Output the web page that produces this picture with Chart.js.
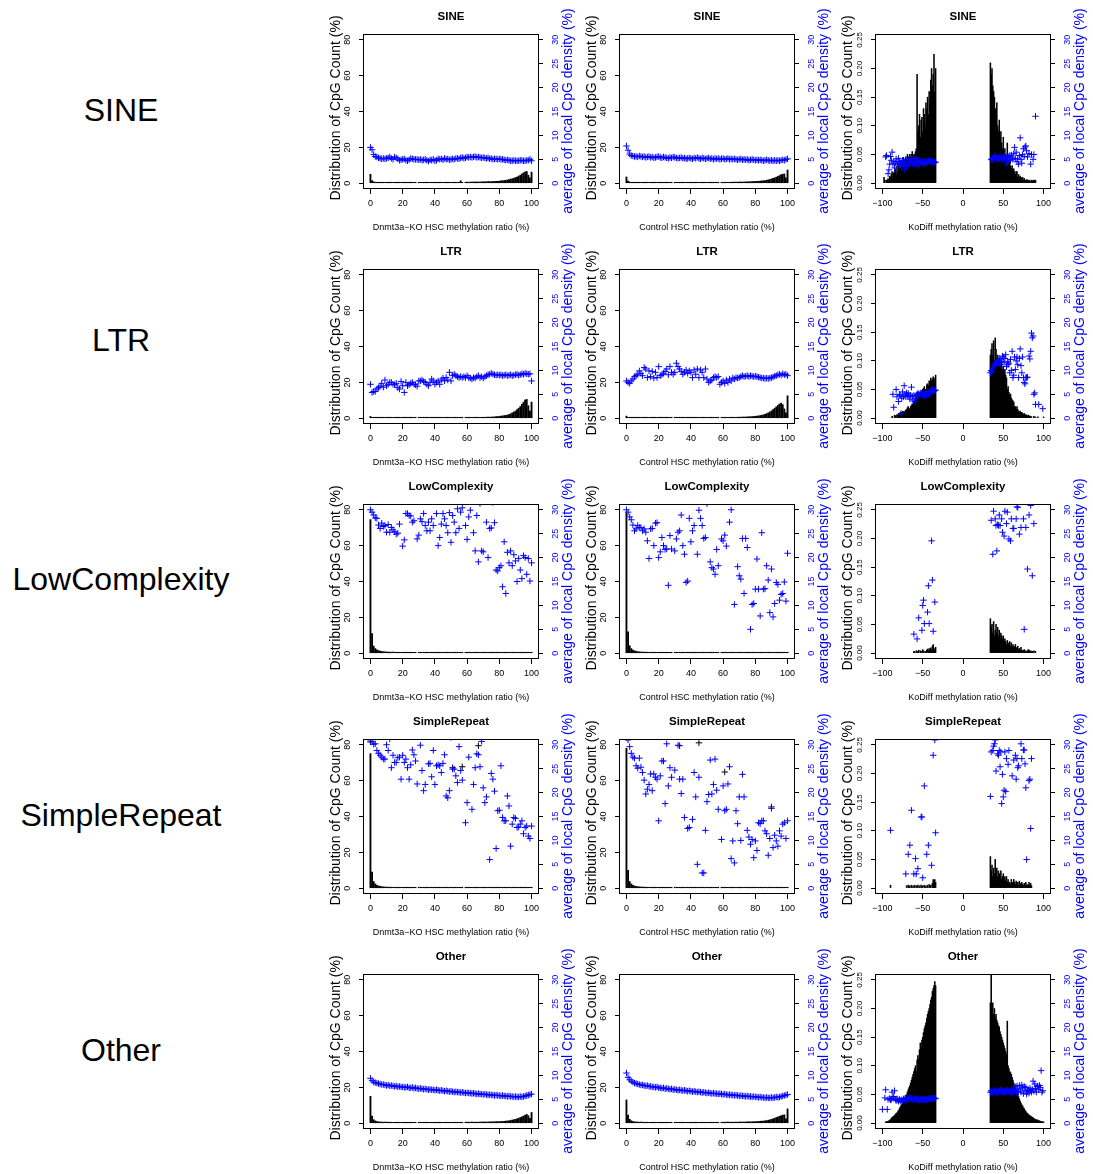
<!DOCTYPE html>
<html>
<head>
<meta charset="utf-8">
<script src="https://cdn.jsdelivr.net/npm/chart.js@4/dist/chart.umd.min.js"></script>
<style>
  body { margin: 0; background: #fff; width: 1093px; height: 1174px; position: relative; overflow: hidden;
         font-family: "Liberation Sans", Arial, Helvetica, sans-serif; }
  .row-label { position: absolute; left: 0; width: 242px; text-align: center; font-size: 32px; line-height: 32px; color: #000; }
  canvas { position: absolute; }
</style>
</head>
<body>
<div class="row-label" style="top:94px">SINE</div>
<div class="row-label" style="top:324px">LTR</div>
<div class="row-label" style="top:563px">LowComplexity</div>
<div class="row-label" style="top:799px">SimpleRepeat</div>
<div class="row-label" style="top:1034px">Other</div>
<script>
// ---- histogram (% of CpGs) per methylation bin, bins 0..100 ----
const sineKoBars = [5.0,1.5,0.8,0.6,0.5,0.4,0.4,0.3,0.3,0.3, 0.3,0.3,0.3,0.3,0.3,0.3,0.3,0.3,0.3,0.3,
  0.3,0.3,0.3,0.3,0.3,0.3,0.3,0.3,0.3,null, 0.3,0.3,0.3,0.3,0.3,0.3,0.3,0.3,0.3,0.3,
  0.3,0.4,0.4,0.4,0.4,0.4,0.4,0.4,0.4,0.4, 0.4,0.4,0.4,0.5,0.5,0.5,1.4,0.5,null,0.6,
  0.6,0.6,0.6,0.6,0.7,0.7,0.7,0.7,0.7,0.8, 0.8,0.8,0.8,0.9,0.9,0.9,1.0,1.0,1.1,1.1,
  1.2,1.3,1.4,1.5,1.7,1.8,2.0,2.3,2.5,2.8, 3.2,3.5,4.0,4.5,5.2,5.8,6.3,6.6,4.5,3.0, 6.2];
const sineCtlBars = [3.5,1.2,0.7,0.5,0.4,0.4,0.3,0.3,0.3,0.3, 0.3,0.3,0.3,0.3,0.3,0.3,0.3,0.3,0.3,0.3,
  0.3,0.3,0.3,0.3,0.3,0.3,0.3,0.3,0.3,null, 0.3,0.3,0.3,0.3,0.3,0.3,0.3,0.3,0.3,0.3,
  0.3,0.3,0.3,0.3,0.3,0.3,0.3,0.4,0.4,0.4, 0.4,0.4,0.4,0.4,0.4,0.4,0.4,0.4,null,0.5,
  0.5,0.5,0.5,0.5,0.5,0.6,0.6,0.6,0.6,0.6, 0.7,0.7,0.7,0.7,0.8,0.8,0.8,0.9,0.9,1.0,
  1.0,1.1,1.1,1.2,1.3,1.4,1.5,1.7,1.9,2.1, 2.4,2.7,3.0,3.4,3.8,4.3,4.8,5.0,5.2,3.0, 7.4];
const ltrKoBars = [1.0,0.5,0.4,0.3,0.3,0.3,0.3,0.3,0.3,0.3, 0.3,0.3,0.3,0.3,0.3,0.3,0.3,0.3,0.3,0.3,
  0.3,0.3,0.3,0.3,0.3,0.3,0.3,0.3,0.3,null, 0.3,0.3,0.3,0.3,0.3,0.3,0.3,0.3,0.3,0.3,
  0.3,0.3,0.3,0.3,0.3,0.3,0.3,0.3,0.3,0.3, 0.3,0.3,0.3,0.3,0.3,0.3,0.3,0.3,null,0.4,
  0.4,0.4,0.4,0.4,0.4,0.4,0.5,0.5,0.5,0.5, 0.5,0.5,0.6,0.6,0.6,0.7,0.7,0.8,0.9,1.0,
  1.0,1.2,1.3,1.5,1.6,1.8,2.1,2.5,3.0,3.5, 4.0,4.8,5.6,6.5,7.8,9.0,10.2,10.5,7.0,4.0, 9.0];
const ltrCtlBars = [1.2,0.5,0.4,0.3,0.3,0.3,0.3,0.3,0.3,0.3, 0.3,0.3,0.3,0.3,0.3,0.3,0.3,0.3,0.3,0.3,
  0.3,0.3,0.3,0.3,0.3,0.3,0.3,0.3,0.3,null, 0.3,0.3,0.3,0.3,0.3,0.3,0.3,0.3,0.3,0.3,
  0.3,0.3,0.3,0.3,0.3,0.3,0.3,0.3,0.3,0.3, 0.3,0.3,0.3,0.3,0.3,0.3,0.3,0.3,null,0.4,
  0.4,0.4,0.4,0.4,0.4,0.5,0.5,0.5,0.5,0.6, 0.6,0.6,0.7,0.7,0.7,0.8,0.8,0.9,0.9,1.0,
  1.1,1.2,1.3,1.5,1.7,1.9,2.2,2.6,3.0,3.5, 4.1,4.8,5.6,6.4,7.2,8.0,8.4,7.6,5.2,3.0, 12.5];
const lowKoBars = [74.5,11.0,4.0,2.6,1.9,1.5,1.2,1.0,0.9,0.8, 0.7,0.7,0.6,0.6,0.6,0.5,0.5,0.5,0.5,0.5,
  0.4,0.4,0.4,0.4,0.4,0.4,0.4,0.4,0.4,null, 0.3,0.3,0.3,0.3,0.3,0.3,0.3,0.3,0.3,0.3,
  0.3,0.3,0.3,0.3,0.3,0.3,0.3,0.3,0.3,0.3, 0.3,0.3,0.3,0.3,0.3,0.3,0.3,0.3,null,0.3,
  0.3,0.3,0.3,0.3,0.3,0.3,0.3,0.3,0.3,0.3, 0.3,0.3,0.3,0.3,0.3,0.3,0.3,0.3,0.3,0.3,
  0.3,0.3,0.3,0.3,0.3,0.3,0.3,0.3,0.3,0.3, 0.3,0.3,0.3,0.3,0.3,0.3,0.3,0.3,0.3,0.3, 0.3];
const lowCtlBars = [78.0,12.0,4.2,2.6,1.8,1.4,1.1,0.9,0.8,0.7, 0.7,0.6,0.6,0.6,0.5,0.5,0.5,0.5,0.4,0.4,
  0.4,0.4,0.4,0.4,0.4,0.4,0.4,0.4,0.4,null, 0.3,0.3,0.3,0.3,0.3,0.3,0.3,0.3,0.3,0.3,
  0.3,0.3,0.3,0.3,0.3,0.3,0.3,0.3,0.3,0.3, 0.3,0.3,0.3,0.3,0.3,0.3,0.3,0.3,null,0.3,
  0.3,0.3,0.3,0.3,0.3,0.3,0.3,0.3,0.3,0.3, 0.3,0.3,0.3,0.3,0.3,0.3,0.3,0.3,0.3,0.3,
  0.3,0.3,0.3,0.3,0.3,0.3,0.3,0.3,0.3,0.3, 0.3,0.3,0.3,0.3,0.3,0.3,0.3,0.3,0.3,0.3, 0.3];
const repKoBars = [75.0,9.0,3.8,2.4,1.7,1.3,1.1,0.9,0.8,0.7, 0.7,0.6,0.6,0.6,0.5,0.5,0.5,0.5,0.5,0.4,
  0.4,0.4,0.4,0.4,0.4,0.4,0.4,0.4,0.4,null, 0.3,0.3,0.3,0.3,0.3,0.3,0.3,0.3,0.3,0.3,
  0.3,0.3,0.3,0.3,0.3,0.3,0.3,0.3,0.3,0.3, 0.3,0.3,0.3,0.3,0.3,0.3,0.3,0.3,null,0.3,
  0.3,0.3,0.3,0.3,0.3,0.3,0.3,0.3,0.3,0.3, 0.3,0.3,0.3,0.3,0.3,0.3,0.3,0.3,0.3,0.3,
  0.3,0.3,0.3,0.3,0.3,0.3,0.3,0.3,0.3,0.3, 0.3,0.3,0.3,0.3,0.3,0.3,0.3,0.3,0.3,0.3, 0.3];
const repCtlBars = [78.0,10.0,3.8,2.4,1.7,1.3,1.0,0.9,0.8,0.7, 0.7,0.6,0.6,0.5,0.5,0.5,0.5,0.5,0.4,0.4,
  0.4,0.4,0.4,0.4,0.4,0.4,0.4,0.4,0.4,null, 0.3,0.3,0.3,0.3,0.3,0.3,0.3,0.3,0.3,0.3,
  0.3,0.3,0.3,0.3,0.3,0.3,0.3,0.3,0.3,0.3, 0.3,0.3,0.3,0.3,0.3,0.3,0.3,0.3,null,0.3,
  0.3,0.3,0.3,0.3,0.3,0.3,0.3,0.3,0.3,0.3, 0.3,0.3,0.3,0.3,0.3,0.3,0.3,0.3,0.3,0.3,
  0.3,0.3,0.3,0.3,0.3,0.3,0.3,0.3,0.3,0.3, 0.3,0.3,0.3,0.3,0.3,0.3,0.3,0.3,0.3,0.3, 0.3];
const otherKoBars = [15.0,4.0,2.0,1.3,1.0,0.8,0.7,0.7,0.6,0.6, 0.6,0.6,0.6,0.5,0.5,0.5,0.5,0.5,0.5,0.5,
  0.5,0.5,0.5,0.5,0.5,0.5,0.5,0.5,0.5,null, 0.5,0.5,0.5,0.5,0.5,0.5,0.5,0.5,0.5,0.5,
  0.5,0.5,0.5,0.5,0.5,0.5,0.5,0.5,0.5,0.5, 0.5,0.5,0.5,0.5,0.5,0.5,0.5,0.5,null,0.6,
  0.6,0.6,0.6,0.6,0.6,0.6,0.6,0.6,0.7,0.7, 0.7,0.7,0.7,0.7,0.8,0.8,0.8,0.8,0.9,0.9,
  0.9,0.9,1.0,1.1,1.2,1.3,1.4,1.6,1.8,2.0, 2.2,2.5,2.8,3.2,3.6,4.0,4.5,5.0,4.2,2.8, 6.0];
const otherCtlBars = [13.0,4.5,2.2,1.4,1.0,0.8,0.7,0.7,0.6,0.6, 0.6,0.5,0.5,0.5,0.5,0.5,0.5,0.5,0.5,0.5,
  0.5,0.5,0.5,0.5,0.5,0.5,0.5,0.5,0.5,null, 0.5,0.5,0.5,0.5,0.5,0.5,0.5,0.5,0.5,0.5,
  0.5,0.5,0.5,0.5,0.5,0.5,0.5,0.5,0.5,0.5, 0.5,0.5,0.5,0.5,0.5,0.5,0.5,0.5,null,0.5,
  0.5,0.6,0.6,0.6,0.6,0.6,0.6,0.6,0.6,0.6, 0.7,0.7,0.7,0.7,0.7,0.8,0.8,0.8,0.8,0.9,
  0.9,1.0,1.0,1.1,1.2,1.2,1.4,1.5,1.7,1.9, 2.2,2.5,2.8,3.2,3.5,3.9,4.2,4.5,4.7,2.5, 8.0];

// ---- average local CpG density (%) per bin, bins 0..100 ----
const sineKoDens = [7.5,7.0,6.0,5.6,5.5,5.3,5.2,5.1,5.2,5.1, 5.2,5.3,5.5,5.2,5.0,5.5,5.3,5.1,4.8,4.9,
  5.0,5.1,4.8,4.7,4.9,5.2,5.1,5.0,5.0,5.0, 4.9,5.0,4.8,4.9,5.0,4.8,4.6,4.9,4.8,5.0,
  4.7,4.8,5.1,5.0,5.1,4.9,5.2,5.0,5.1,4.9, 5.0,5.1,5.0,5.2,5.2,5.1,5.3,5.4,5.2,5.3,
  5.5,5.4,5.5,5.4,5.5,5.6,5.4,5.5,5.4,5.3, 5.4,5.3,5.2,5.3,5.1,5.2,5.0,5.1,5.1,5.0,
  5.1,5.0,5.0,4.9,4.8,4.9,4.8,4.7,4.7,4.8, 4.7,4.7,4.7,4.8,4.8,4.7,4.7,4.8,4.8,5.0, 4.7];
const sineCtlDens = [7.8,6.9,6.1,5.8,5.7,5.6,5.6,5.5,5.7,5.6, 5.5,5.6,5.4,5.5,5.6,5.4,5.5,5.3,5.4,5.5,
  5.6,5.4,5.3,5.5,5.4,5.3,5.2,5.4,5.3,5.5, 5.4,5.3,5.2,5.3,5.4,5.2,5.3,5.1,5.2,5.3,
  5.2,5.1,5.3,5.2,5.4,5.2,5.1,5.3,5.2,5.1, 5.2,5.3,5.1,5.2,5.0,5.2,5.1,5.2,5.0,5.1,
  5.2,5.0,5.1,5.2,5.0,5.1,5.0,5.1,5.0,4.9, 5.0,5.1,4.9,5.0,4.9,5.0,4.8,4.9,5.0,4.9,
  4.8,4.9,4.8,4.9,4.8,4.7,4.8,4.9,4.8,4.7, 4.8,4.7,4.8,4.7,4.8,4.7,4.8,4.9,4.8,5.0, 5.1];
const ltrKoDens = [7.1,5.4,5.6,5.6,6.1,6.4,6.7,7.3,6.5,8.0, 6.8,7.1,7.5,7.5,7.1,7.0,7.3,6.4,6.1,7.7,
  6.8,5.4,7.5,6.8,7.0,7.3,7.5,7.1,7.0,6.7, 7.8,7.8,8.0,7.7,7.5,7.1,6.8,7.5,8.2,7.8,
  7.1,7.5,7.8,7.1,8.0,8.4,7.8,8.5,8.0,9.6, 7.8,8.9,9.2,8.9,8.7,8.5,8.7,8.5,8.7,8.5,
  8.9,8.5,8.4,8.2,8.5,8.4,8.7,8.9,8.5,8.7, 8.4,8.7,8.9,9.1,9.2,9.4,9.2,9.1,9.0,9.1,
  9.0,9.1,8.9,9.0,9.1,8.9,9.0,9.1,8.9,9.0, 9.1,9.2,9.0,9.1,9.3,9.2,9.4,9.3,9.2,9.3, 7.8];
const ltrCtlDens = [7.8,7.5,7.3,7.8,8.2,8.7,8.9,9.2,9.9,9.4, 8.9,10.6,10.3,8.5,9.9,8.7,9.8,8.4,9.6,8.5,
  10.8,8.9,9.1,9.4,9.8,10.3,9.1,10.8,9.6,9.2, 9.6,11.5,10.8,10.3,9.8,9.2,9.6,10.1,9.4,9.9,
  9.6,8.5,10.1,9.2,10.3,8.5,10.1,9.6,8.5,10.3, 8.2,7.5,7.8,8.0,8.5,8.7,8.5,8.7,7.1,7.5,
  7.8,7.3,8.0,7.5,8.2,7.8,8.4,8.2,8.5,8.4, 8.5,8.7,8.9,8.7,8.8,8.9,8.7,8.9,8.8,8.7,
  8.8,8.7,8.6,8.5,8.4,8.4,8.3,8.4,8.3,8.4, 8.5,8.6,8.8,8.9,9.1,9.2,9.0,9.3,9.1,9.2, 8.9];
const lowKoDens = [30.0,29.5,28.9,28.3,28.2,26.8,26.1,27.2,26.5,26.7, 25.3,26.9,25.3,26.3,25.8,25.4,24.9,25.1,27.0,null,
  22.4,23.7,29.2,29.2,28.8,28.7,27.4,27.7,null,23.9, 24.7,28.1,27.5,29.2,26.7,25.6,27.4,25.6,28.1,26.7,
  null,29.2,22.5,24.2,27.0,29.2,28.1,26.7,25.2,29.4, 23.2,28.8,27.4,25.2,30.2,26.1,29.5,30.4,null,26.7,
  23.8,28.5,29.9,null,25.2,21.4,28.8,19.1,31.3,21.4, 21.2,null,27.4,20.0,26.1,26.2,31.5,27.3,17.4,17.2,
  17.9,18.3,13.9,23.3,12.5,21.1,18.9,21.4,18.3,20.6, 19.3,15.0,19.8,17.4,15.6,20.4,20.0,16.5,19.8,15.1, 18.9];
const lowCtlDens = [30.0,29.5,28.5,27.9,26.8,25.6,26.0,26.7,26.3,26.3, 25.6,26.0,25.3,23.5,19.8,26.0,26.1,22.5,27.2,27.3,
  20.0,21.2,24.2,22.5,21.7,21.8,14.2,24.6,21.8,null, 21.4,23.9,25.3,25.6,28.9,22.5,20.7,14.8,15.1,28.2,
  23.3,25.6,26.7,null,20.7,29.9,28.2,26.7,24.0,24.2, 31.3,null,19.1,17.9,17.6,16.5,21.7,18.3,null,23.9,
  23.5,24.7,22.4,null,27.4,30.0,null,10.2,null,18.1, 16.2,15.5,24.0,12.5,24.0,22.1,null,5.0,10.2,10.4,
  13.4,19.7,13.4,7.8,25.2,13.4,13.5,18.3,15.3,8.5, 17.6,7.6,10.4,14.8,14.4,11.1,12.3,12.5,14.9,10.9, 20.9];
const repKoDens = [31.0,30.6,30.1,30.2,28.8,28.2,27.8,27.4,27.0,27.0, 30.0,28.8,31.2,25.2,27.8,26.3,26.3,27.3,27.4,22.8,
  27.8,26.3,27.0,25.2,22.8,25.8,28.9,27.9,26.6,21.8, null,29.9,24.6,20.4,21.7,null,26.0,26.1,23.3,28.8,
  21.7,25.6,25.8,25.6,24.2,26.1,27.9,19.3,18.9,20.4, 31.5,24.9,24.9,23.5,22.1,29.6,24.6,22.6,null,13.7,
  17.9,27.4,null,16.5,21.7,25.2,28.1,27.9,25.4,30.7, 21.0,17.9,19.1,null,6.0,24.0,22.8,20.3,8.3,16.2,
  16.3,25.6,14.8,14.1,14.1,19.3,17.2,8.8,13.4,14.8, 14.6,12.7,12.8,13.4,14.1,11.4,12.7,13.0,10.9,10.4, 13.0];
const repCtlDens = [31.5,31.0,29.6,28.2,27.4,27.2,25.6,25.1,27.2,25.3, 24.2,22.6,19.7,20.7,21.7,23.9,20.4,23.9,23.2,22.8,
  14.1,23.5,26.6,26.6,17.7,30.2,21.4,25.2,23.2,null, 24.7,null,29.9,22.8,19.8,22.8,14.8,null,12.5,12.7,
  null,14.4,24.2,19.1,5.0,23.2,null,3.2,3.2,12.1, 18.1,19.6,26.8,19.7,21.7,27.0,20.5,16.5,null,10.2,
  21.4,16.2,16.5,21.8,25.4,6.2,9.9,5.3,16.2,13.5, 19.1,10.0,23.8,19.1,null,12.1,10.7,9.2,10.2,6.4,
  9.9,7.9,13.7,13.5,14.1,14.1,12.0,11.4,6.9,10.4, 16.7,8.5,11.1,9.9,8.8,12.0,10.9,13.4,13.7,10.4, 14.1];
const otherKoDens = [9.4,8.9,8.6,8.5,8.4,8.3,8.2,8.1,8.1,8.0, 7.9,8.0,7.8,7.9,7.8,7.7,7.8,7.6,7.7,7.6,
  7.6,7.5,7.5,7.6,7.4,7.4,7.5,7.3,7.4,7.3, 7.2,7.3,7.2,7.1,7.2,7.1,7.0,7.1,7.0,7.0,
  6.9,7.0,6.9,6.8,6.9,6.8,6.7,6.8,6.7,6.6, 6.7,6.6,6.5,6.6,6.5,6.5,6.4,6.5,6.4,6.3,
  6.4,6.3,6.3,6.2,6.3,6.2,6.1,6.2,6.1,6.1, 6.0,6.1,6.0,5.9,6.0,5.9,5.9,5.8,5.9,5.8,
  5.8,5.7,5.8,5.7,5.7,5.6,5.7,5.6,5.6,5.5, 5.6,5.5,5.5,5.6,5.5,5.6,5.7,5.8,5.9,6.0, 6.1];
const otherCtlDens = [10.5,9.6,9.1,8.8,8.6,8.4,8.3,8.2,8.1,8.0, 8.0,7.9,7.8,7.9,7.7,7.7,7.6,7.6,7.5,7.6,
  7.4,7.4,7.3,7.4,7.2,7.3,7.2,7.1,7.2,7.0, 7.1,7.0,6.9,7.0,6.9,6.8,6.9,6.8,6.7,6.8,
  6.7,6.6,6.7,6.6,6.5,6.6,6.5,6.4,6.5,6.4, 6.3,6.4,6.3,6.2,6.3,6.2,6.2,6.1,6.2,6.1,
  6.0,6.1,6.0,5.9,6.0,5.9,5.9,5.8,5.9,5.8, 5.7,5.8,5.7,5.7,5.6,5.7,5.6,5.6,5.5,5.6,
  5.5,5.5,5.4,5.5,5.4,5.4,5.3,5.4,5.3,5.3, 5.4,5.3,5.4,5.5,5.4,5.5,5.6,5.7,5.8,5.9, 6.0];

// second series (black crosses) in the SimpleRepeat panels
const repKoBlackX = [0, 51, 57, 67];
const repKoBlackY = [30.6, 25.2, 25.4, 29.8];
const repCtlBlackX = [33, 45, 61, 90];
const repCtlBlackY = [29.8, 30.4, 24.3, 17.0];

// ---- KoDiff panels: negative side bins -100..-34, positive side bins 34..100 ----
const sineDiffBarsNeg = [null,null,0.01,0.005,null,0.005,0.005,0.008,0.005,0.012,
  0.01,0.015,0.02,0.012,0.018,0.02,0.025,0.015,0.03,0.02, 0.035,0.025,0.03,0.04,0.03,0.035,0.045,0.03,0.04,0.045,
  0.04,0.05,0.045,0.04,0.05,0.045,0.05,0.055,0.05,0.045, 0.05,0.055,0.06,0.19,0.09,0.1,0.12,0.08,0.11,0.115,
  0.09,0.13,0.12,0.1,0.14,0.13,0.15,0.12,0.16,0.14, 0.18,0.2,0.17,0.19,0.225,0.16,0.2];
const sineDiffBarsPos = [0.21,0.19,0.2,0.17,0.16,0.15,0.13,0.12,0.14,0.1, 0.09,0.11,0.08,0.09,0.07,0.06,0.08,0.05,0.06,0.05,
  0.04,0.07,0.04,0.035,0.04,0.03,0.025,0.03,0.02,0.025, 0.02,0.015,0.02,0.02,0.01,0.015,0.01,0.012,0.01,0.008,
  0.01,0.005,0.008,0.005,0.004,0.006,0.005,0.004,0.005,0.004, 0.003,0.005,0.004,0.004,0.005,0.004,0.005,null,null,null,
  null,null,null,null,null,null,null];
const sineDiffDensNeg = [null,null,null,null,5.5,5.8,null,2.0,2.8,4.0, 5.6,4.8,6.5,4.0,4.5,3.2,4.2,5.1,4.5,4.0,
  5.2,4.5,3.8,4.2,3.5,4.8,4.0,2.8,4.5,5.0, 3.6,4.2,5.0,4.4,3.8,4.6,5.2,4.0,4.5,5.1,
  4.3,5.4,4.6,3.6,4.2,4.8,4.0,4.5,4.3,4.1, 4.6,4.2,4.4,4.0,4.7,4.5,4.3,4.6,4.8,4.5, 4.7,4.5,4.6,4.4,4.5,4.3,4.4];
const sineDiffDensPos = [null,5.0,4.9,5.2,5.0,5.4,5.8,5.3,5.0,5.5, 5.2,5.4,5.1,5.6,5.3,5.0,5.5,5.7,5.2,5.5,
  4.2,5.4,5.6,5.0,5.8,4.7,5.9,5.3,5.0,6.2, 7.5,5.2,6.5,4.5,5.1,4.0,5.8,9.5,5.0,4.2,
  6.0,7.2,5.6,7.6,7.8,6.8,5.5,null,6.2,null, 4.0,6.0,null,5.0,6.0,null,14.0,null,null,null, null,null,null,null,null,null,null];

const ltrDiffBarsNeg = [null,null,null,null,null,null,null,null,null,null,
  null,null,0.003,null,null,0.005,0.004,null,0.006,0.005, 0.006,0.008,0.01,0.009,0.01,0.012,0.011,0.01,0.012,0.014,
  0.015,0.018,0.02,0.017,0.015,0.02,0.022,0.025,0.023,0.028, 0.03,0.028,0.032,0.045,0.035,0.04,0.042,0.038,0.045,0.048,
  0.05,0.052,0.055,0.05,0.048,0.058,0.06,0.057,0.065,0.062, 0.07,0.065,0.068,0.072,0.07,0.066,0.075];
const ltrDiffBarsPos = [0.11,0.12,0.13,0.11,0.135,0.1,0.14,0.12,0.1,0.11, 0.1,0.105,0.095,0.09,0.1,0.085,0.09,0.08,0.085,0.075,
  0.07,0.05,0.055,0.045,0.04,0.042,0.035,0.032,0.03,0.028, 0.02,0.02,0.015,0.02,0.015,0.012,0.01,0.012,0.008,0.01,
  0.008,0.006,0.008,0.005,0.006,0.005,0.004,0.005,0.003,0.004, 0.003,0.002,null,null,0.003,null,0.002,null,null,0.002,
  null,null,null,null,null,null,0.002];
const ltrDiffDensNeg = [null,null,null,null,null,null,null,null,null,null,
  null,null,null,5.0,2.3,null,null,6.0,4.5,null, 3.5,5.0,4.8,1.0,4.2,5.5,4.5,6.8,5.0,4.5,
  5.3,4.8,5.2,4.5,4.0,4.8,6.5,4.6,3.8,4.8, 3.5,4.2,4.7,5.0,5.2,5.0,4.9,5.3,5.0,5.2,
  4.8,5.0,4.7,5.5,5.2,4.8,5.3,5.0,5.5,5.2, 5.5,5.8,6.0,5.6,5.7,5.8,5.9];
const ltrDiffDensPos = [9.5,10.0,9.8,10.5,11.0,11.3,11.0,11.5,11.8,12.0, 11.6,12.5,11.2,12.2,11.8,13.0,12.8,11.6,12.5,13.3,
  10.8,11.8,11.2,11.5,9.5,12.3,10.0,14.0,8.5,9.0, 12.8,10.2,12.0,12.8,11.2,8.5,12.5,14.5,11.0,9.5,
  12.8,8.5,7.5,7.2,8.5,8.5,8.6,null,13.0,12.4, 14.0,17.8,16.8,17.2,5.0,5.3,2.9,null,null,null,
  2.9,null,null,null,null,2.0,null];

const lowDiffBarsNeg = [null,null,null,null,null,null,null,null,null,null,
  null,null,null,null,null,null,null,null,null,null, null,null,null,null,null,null,null,null,null,null,
  null,null,null,null,null,null,null,null,null,0.003, 0.002,null,0.004,null,0.003,0.005,null,0.004,0.003,null,
  0.006,0.004,null,0.003,null,0.005,0.007,0.004,0.008,0.006, 0.009,0.005,0.012,0.015,0.008,0.006,0.01];
const lowDiffBarsPos = [0.06,0.045,0.05,0.035,0.055,0.03,0.04,0.05,0.035,0.045, 0.03,0.04,0.025,0.035,0.03,0.025,0.03,0.02,0.025,0.02,
  0.015,0.022,0.018,0.015,0.02,0.012,0.018,0.01,0.015,0.012, 0.01,0.015,0.008,0.01,0.012,0.006,0.008,0.005,0.01,0.004,
  0.005,0.004,0.006,0.003,0.004,0.002,0.004,0.006,0.005,0.003, 0.004,0.002,0.003,null,0.004,null,0.003,null,null,null,
  null,null,null,null,null,null,null];
const lowDiffDensNeg = [null,null,null,null,null,null,null,null,null,null,
  null,null,null,null,null,null,null,null,null,null, null,null,null,null,null,null,null,null,null,null,
  null,null,null,null,null,null,null,null,null,4.0, null,null,null,3.0,null,7.4,null,null,null,4.8,
  10.0,11.1,6.2,null,null,null,8.6,14.1,6.2,null, null,23.5,15.3,4.6,null,10.7,null];
const lowDiffDensPos = [null,27.8,null,20.7,29.7,null,28.1,26.7,21.4,26.9, 26.7,28.9,26.7,null,28.1,25.3,null,24.5,29.7,null,
  27.1,29.5,null,23.9,null,23.5,28.1,null,26.1,26.1, null,null,28.1,30.6,30.5,null,24.9,null,26.3,null,
  null,28.1,5.0,null,26.3,null,17.6,null,28.9,null, 30.9,null,16.2,null,27.1,null,null,null,null,null,
  null,null,null,null,null,null,null];

const repDiffBarsNeg = [null,null,null,null,null,null,null,null,null,null,
  0.005,null,null,null,null,null,null,null,null,null, null,null,null,null,null,null,null,null,null,null,
  0.004,null,0.005,null,0.004,null,0.005,null,0.004,null, 0.005,null,0.004,null,0.005,null,0.004,null,0.005,null,
  0.004,null,0.005,null,0.004,null,0.005,null,0.006,null, 0.005,null,0.008,0.015,0.006,0.015,0.01];
const repDiffBarsPos = [0.055,0.03,0.04,0.02,0.035,0.025,0.05,0.03,0.035,0.02, 0.03,0.025,0.02,0.03,0.015,0.02,0.025,0.015,0.02,0.012,
  0.02,0.01,0.015,0.008,0.01,0.006,0.015,0.01,0.008,0.015, 0.01,0.006,0.012,0.006,0.01,0.005,0.012,0.008,0.005,0.01,
  0.006,0.004,0.008,0.005,0.01,0.004,0.006,0.005,0.01,0.004, 0.008,0.004,null,null,null,null,null,null,null,null,
  null,null,null,null,null,null,null];
const repDiffDensNeg = [null,null,null,null,null,null,null,null,null,null,
  12.1,null,null,null,null,null,null,null,null,null, null,null,null,null,null,null,null,null,null,3.0,
  null,null,7.1,null,9.0,null,16.3,null,null,3.0, null,6.2,3.0,null,4.1,null,null,null,14.9,14.9,
  2.2,null,21.4,null,null,7.1,null,9.0,null,null, null,4.8,null,27.8,null,31.0,11.6];
const repDiffDensPos = [19.2,28.5,null,28.8,29.7,30.2,31.0,24.5,null,28.1, 27.8,28.8,25.4,28.5,17.7,23.8,19.1,20.5,28.5,20.2,
  27.1,null,25.9,28.8,null,null,null,23.5,null,26.8, null,27.8,22.8,27.1,25.2,25.6,null,null,30.2,27.1,
  null,28.9,28.9,26.0,21.0,6.0,null,null,22.5,22.8, 12.5,27.1,null,null,null,null,null,null,null,null,
  null,null,null,null,null,null,null];

const otherDiffBarsNeg = [null,null,null,null,0.002,0.002,0.003,0.003,0.004,0.005,
  0.006,0.008,0.01,0.011,0.012,0.013,0.015,0.017,0.018,0.02, 0.022,0.025,0.028,0.03,0.032,0.035,0.038,0.041,0.045,0.048,
  0.05,0.054,0.058,0.062,0.065,0.07,0.075,0.08,0.085,0.09, 0.095,0.1,0.09,0.11,0.118,0.112,0.128,0.14,0.132,0.145,
  0.15,0.158,0.165,0.17,0.175,0.183,0.19,0.195,0.2,0.207, 0.215,0.22,0.23,0.235,0.24,0.247,0.24];
const otherDiffBarsPos = [0.21,0.26,0.2,0.21,0.19,0.2,0.185,0.19,0.18,0.175, 0.17,0.168,0.16,0.155,0.15,0.145,0.14,0.135,0.13,0.125,
  0.12,0.178,0.1,0.095,0.09,0.088,0.085,0.08,0.075,0.07, 0.065,0.062,0.058,0.054,0.05,0.046,0.042,0.038,0.035,0.032,
  0.03,0.027,0.025,0.022,0.02,0.018,0.017,0.015,0.014,0.013, 0.012,0.011,0.01,0.009,0.008,0.007,0.006,0.006,0.005,0.005,
  0.004,0.004,0.003,0.003,0.002,0.002,0.002];
const otherDiffDensNeg = [2.9,null,null,5.3,7.0,null,2.9,5.0,null,5.2, 4.9,5.0,6.5,5.3,5.6,6.8,5.0,4.7,5.1,4.9,
  4.6,5.0,4.8,4.5,4.9,4.7,5.1,4.8,5.2,5.0, 4.9,5.4,5.1,5.2,5.0,5.3,5.1,4.9,5.2,5.0,
  5.1,4.9,5.0,5.2,4.9,5.0,4.8,5.0,4.9,5.1, 4.9,5.0,4.9,5.1,5.0,4.9,5.0,5.1,5.0,5.2, 5.1,5.0,5.2,5.1,5.3,5.1,5.2];
const otherDiffDensPos = [6.5,6.8,6.4,6.6,6.3,6.9,6.5,6.7,6.4,6.8, 6.6,6.5,6.9,6.6,7.2,6.5,6.8,6.6,6.4,6.7,
  6.9,6.5,6.8,6.6,6.3,6.7,7.0,6.5,6.2,7.3, 6.8,7.6,6.4,7.8,7.0,6.6,7.9,7.2,6.5,8.0,
  7.4,6.2,7.7,6.8,7.5,6.1,6.6,7.0,6.3,7.3, 6.9,6.5,7.1,8.8,6.7,8.2,7.3,6.5,7.8,7.7, 7.0,7.9,7.5,11.0,6.5,6.8,null];

const rowTitles = ['SINE', 'LTR', 'LowComplexity', 'SimpleRepeat', 'Other'];
const xTitles = ['Dnmt3a\u2212KO HSC methylation ratio (%)', 'Control HSC methylation ratio (%)', 'KoDiff methylation ratio (%)'];
const ratioTicks = [0, 20, 40, 60, 80, 100];
const diffTicks = [-100, -50, 0, 50, 100];
const countTicks = [0, 20, 40, 60, 80];
const diffCountTicks = [0, 0.05, 0.1, 0.15, 0.2, 0.25];
const densTicks = [0, 5, 10, 15, 20, 25, 30];

// turn a run of per-bin values into {x, y} points, dropping empty bins
function pts(start, values) {
  return values.map((v, i) => ({ x: start + i, y: v })).filter(p => p.y !== null);
}
function ptsXY(xs, ys) {
  return xs.map((x, i) => ({ x: x, y: ys[i] }));
}
function diff(neg, pos) {
  return pts(-100, neg).concat(pts(34, pos));
}

const panels = [
  [ { bars: pts(0, sineKoBars), dens: pts(0, sineKoDens) },
    { bars: pts(0, sineCtlBars), dens: pts(0, sineCtlDens) },
    { bars: diff(sineDiffBarsNeg, sineDiffBarsPos), dens: diff(sineDiffDensNeg, sineDiffDensPos) } ],
  [ { bars: pts(0, ltrKoBars), dens: pts(0, ltrKoDens) },
    { bars: pts(0, ltrCtlBars), dens: pts(0, ltrCtlDens) },
    { bars: diff(ltrDiffBarsNeg, ltrDiffBarsPos), dens: diff(ltrDiffDensNeg, ltrDiffDensPos) } ],
  [ { bars: pts(0, lowKoBars), dens: pts(0, lowKoDens) },
    { bars: pts(0, lowCtlBars), dens: pts(0, lowCtlDens) },
    { bars: diff(lowDiffBarsNeg, lowDiffBarsPos), dens: diff(lowDiffDensNeg, lowDiffDensPos) } ],
  [ { bars: pts(0, repKoBars), dens: pts(0, repKoDens), black: ptsXY(repKoBlackX, repKoBlackY) },
    { bars: pts(0, repCtlBars), dens: pts(0, repCtlDens), black: ptsXY(repCtlBlackX, repCtlBlackY) },
    { bars: diff(repDiffBarsNeg, repDiffBarsPos), dens: diff(repDiffDensNeg, repDiffDensPos) } ],
  [ { bars: pts(0, otherKoBars), dens: pts(0, otherKoDens) },
    { bars: pts(0, otherCtlBars), dens: pts(0, otherCtlDens) },
    { bars: diff(otherDiffBarsNeg, otherDiffBarsPos), dens: diff(otherDiffDensNeg, otherDiffDensPos) } ]
];

const FONT = '"Liberation Sans", Arial, Helvetica, sans-serif';
const BLUE = '#0000ff';
const colLeft = [323, 579, 835];

function fmtNum(v, digits) {
  const s = Math.abs(v).toFixed(digits);
  return v < 0 ? '\u2212' + s : s;
}

function vtext(ctx, text, x, y) {
  ctx.save();
  ctx.translate(x, y);
  ctx.rotate(-Math.PI / 2);
  ctx.fillText(text, 0, 0);
  ctx.restore();
}

// box, titles and tick labels in base-graphics style
function panelText(title, xTitle, xTicks, yTicks, yDigits, yFont) {
  return {
    id: 'panelText',
    afterDraw(chart) {
      const { ctx, chartArea: a, scales } = chart;
      ctx.save();
      ctx.strokeStyle = '#000';
      ctx.lineWidth = 1;
      ctx.strokeRect(Math.round(a.left) - 0.5, Math.round(a.top) + 0.5,
        Math.round(a.right - a.left) + 1, Math.round(a.bottom - a.top) - 1);

      ctx.textAlign = 'center';
      ctx.textBaseline = 'middle';
      ctx.fillStyle = '#000';
      ctx.font = 'bold 11.5px ' + FONT;
      ctx.fillText(title, (a.left + a.right) / 2, 17);

      ctx.font = '9px ' + FONT;
      xTicks.forEach(v => ctx.fillText(fmtNum(v, 0), scales.x.getPixelForValue(v), 204));
      ctx.fillText(xTitle, (a.left + a.right) / 2, 228);

      ctx.font = yFont + 'px ' + FONT;
      yTicks.forEach(v => vtext(ctx, fmtNum(v, yDigits), 25, scales.y.getPixelForValue(v)));
      ctx.font = '14px ' + FONT;
      vtext(ctx, 'Distribution of CpG Count (%)', 13.5, 108);

      ctx.fillStyle = BLUE;
      ctx.font = '9px ' + FONT;
      densTicks.forEach(v => vtext(ctx, String(v), 233, scales.y2.getPixelForValue(v)));
      ctx.font = '14px ' + FONT;
      vtext(ctx, 'average of local CpG density (%)', 245, 111);
      ctx.restore();
    }
  };
}

function axis(position, min, max, ticks, size) {
  return {
    type: 'linear', position: position, min: min, max: max, offset: false,
    afterBuildTicks: s => { s.ticks = ticks.map(v => ({ value: v })); },
    afterFit: s => { if (position === 'bottom') s.height = size; else s.width = size; },
    grid: { display: true, drawOnChartArea: false, drawTicks: true, tickLength: 5, color: '#000', offset: false },
    border: { display: false },
    ticks: { display: false }
  };
}

panels.forEach((row, r) => {
  row.forEach((p, c) => {
    const isDiff = c === 2;
    const canvas = document.createElement('canvas');
    canvas.width = 256;
    canvas.height = 235;
    canvas.style.left = colLeft[c] + 'px';
    canvas.style.top = (r * 235) + 'px';
    document.body.appendChild(canvas);

    const datasets = [
      { type: 'scatter', data: p.dens, yAxisID: 'y2', pointStyle: 'cross', pointRadius: 3.2,
        borderColor: BLUE, borderWidth: 1, order: 0 },
      { type: 'bar', data: p.bars, yAxisID: 'y', backgroundColor: '#000', borderWidth: 0,
        barThickness: isDiff ? 0.9 : 1.2, minBarLength: 1, order: 2 }
    ];
    if (p.black) {
      datasets.push({ type: 'scatter', data: p.black, yAxisID: 'y2', pointStyle: 'cross', pointRadius: 3.2,
        borderColor: '#000', borderWidth: 1, order: 1 });
    }

    const yTicks = isDiff ? diffCountTicks : countTicks;
    new Chart(canvas, {
      type: 'bar',
      data: { datasets: datasets },
      options: {
        responsive: false,
        animation: false,
        events: [],
        layout: { padding: { top: 34, left: 0, right: 0, bottom: 0 } },
        plugins: { legend: { display: false }, tooltip: { enabled: false } },
        scales: {
          x: axis('bottom', isDiff ? -108 : -4, isDiff ? 108 : 104, isDiff ? diffTicks : ratioTicks, 46),
          y: axis('left', isDiff ? -0.0104 : -3.2, isDiff ? 0.2604 : 83.2, yTicks, 41),
          y2: axis('right', -1.2, 31.2, densTicks, 41)
        }
      },
      plugins: [panelText(rowTitles[r], xTitles[c], isDiff ? diffTicks : ratioTicks, yTicks,
        isDiff ? 2 : 0, isDiff ? 8 : 9)]
    });
  });
});
</script>
</body>
</html>
